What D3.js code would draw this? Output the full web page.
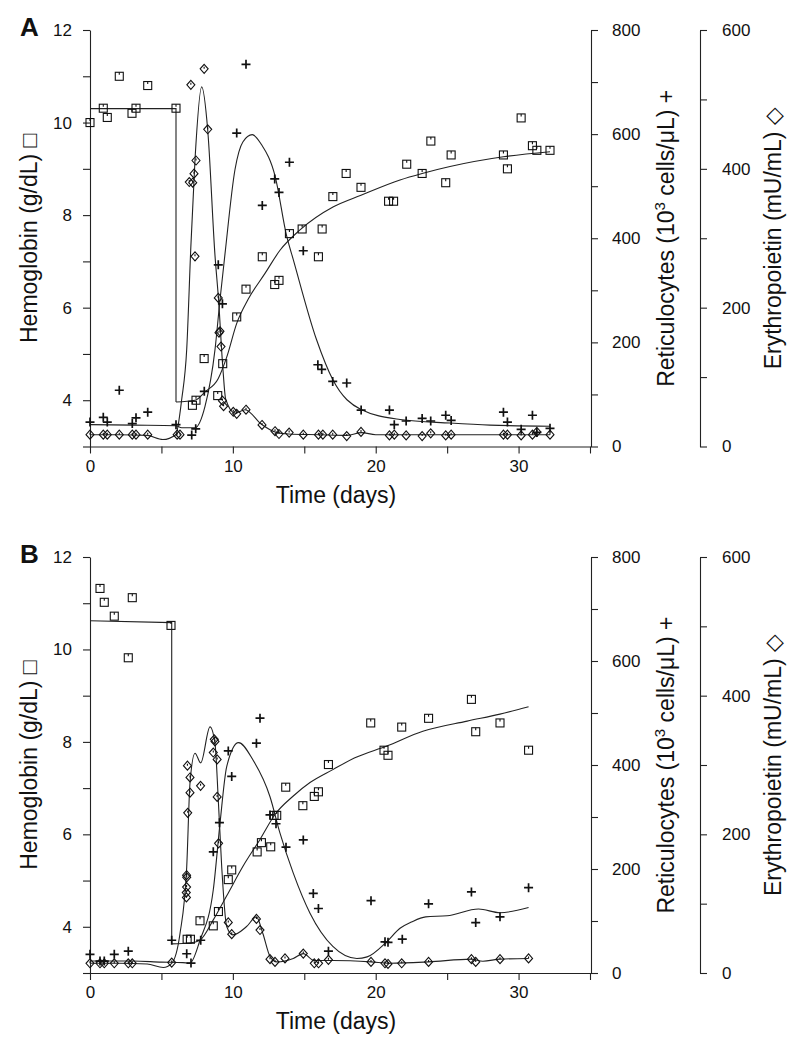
<!DOCTYPE html>
<html><head><meta charset="utf-8">
<script src="https://cdn.jsdelivr.net/npm/d3@7"></script>
<style>
body{margin:0;background:#fff;}
svg text{font-family:"Liberation Sans",Arial,Helvetica,sans-serif;fill:#111;}
</style></head><body>
<svg id="chart" width="800" height="1050"></svg>
<script>
// ---------- tick values ----------
const xTicks = [0,5,10,15,20,25,30,35];
const xLabels = [0,10,20,30];
const hbTicks = [3,4,5,6,7,8,9,10,11,12];
const hbLabels = [4,6,8,10,12];
const retTicks = [0,100,200,300,400,500,600,700,800];
const retLabels = [0,200,400,600,800];
const epoTicks = [0,100,200,300,400,500,600];
const epoLabels = [0,200,400,600];

// ---------- Panel A data [day, value] ----------
const hbA = [[0,10.0],[0.93,10.31],[1.21,10.11],[2.05,11.0],[2.94,10.2],[3.22,10.31],[4.04,10.8],[6.02,10.31],
 [7.17,3.89],[7.42,4.0],[7.99,4.9],[8.94,4.1],[9.29,4.79],[10.27,5.8],[10.92,6.4],[12.06,7.1],[12.93,6.5],[13.23,6.59],
 [13.96,7.6],[14.85,7.7],[15.99,7.1],[16.25,7.7],[17.0,8.4],[17.93,8.9],[18.97,8.6],[20.9,8.3],[21.25,8.3],[22.17,9.1],
 [23.25,8.9],[23.86,9.6],[24.9,8.7],[25.28,9.3],[28.94,9.3],[29.22,9.0],[30.18,10.1],[30.97,9.5],[31.28,9.4],[32.2,9.4]];
const retA = [[0,47],[0.93,56],[1.21,47],[2.05,108],[2.96,44],[3.22,55],[4.04,66],[6.02,42],[7.12,22],[7.4,34],[8.0,106],
 [8.98,349],[9.27,274],[10.27,602],[10.92,734],[12.06,463],[12.93,514],[13.23,488],[13.96,546],[14.93,376],[15.95,157],
 [16.22,148],[16.99,125],[17.97,122],[18.98,70],[20.96,70],[21.3,42],[22.13,49],[23.25,54],[23.85,49],[24.9,60],[25.28,50],
 [28.94,66],[29.22,47],[30.18,33],[30.97,60],[31.28,27],[32.2,35]];
const epoA = [[0,17],[0.93,17],[1.21,17],[2.05,17],[2.96,17],[3.22,17],[4.04,17],[6.1,17],[6.3,17],[6.95,381],[7.06,521],
 [7.19,380],[7.28,393],[7.35,274],[7.42,412],[7.99,544],[8.24,457],[8.98,214],[9.03,164],[9.1,166],[9.17,144],[9.27,66],
 [9.35,58],[10.03,50],[10.27,47],[10.92,53],[12.04,31],[12.95,22],[13.23,18],[13.94,20],[14.93,17],[15.99,17],[16.3,17],
 [16.99,17],[17.97,15],[18.97,21],[20.96,16],[21.3,17],[22.13,16],[23.25,15],[23.85,19],[24.9,16],[25.28,17],[28.94,17],
 [29.22,17],[30.18,16],[30.97,17],[31.28,21],[32.2,17]];
const hbStepA = [[0,10.3],[6.02,10.3],[6.02,3.96]];
const hbFitA = [[6.02,3.96],[7.35,4.0],[8.05,4.18],[8.98,4.47],[9.57,4.93],[10.27,5.66],[11.07,6.18],[12.25,6.74],[13.3,7.24],
 [14.7,7.68],[17.04,8.18],[18.97,8.43],[21.7,8.76],[23.25,8.9],[25.2,9.05],[28.94,9.26],[32.2,9.37]];
const retFitA = [[0,42],[3,41],[6,40],[6.42,36],[7.35,36],[8.05,77],[8.75,186],[9.1,282],[9.45,370],[10.15,532],[10.7,585],
 [11.36,599],[12.0,580],[12.96,519],[13.76,405],[14.23,359],[15.86,205],[17.0,128],[18.97,71],[21.7,52],[25.2,45],[28,41],[32.2,39]];
const epoFitA = [[0,17],[2,17],[4,16],[5.1,10],[6.0,17],[6.42,68],[6.77,140],[7.06,288],[7.35,413],[7.82,518],[8.24,456],
 [8.75,275],[9.0,211],[9.29,116],[9.5,68],[10.15,48],[10.85,53],[12.0,32],[12.95,21],[13.9,18],[16,17],[18,16],[19,20],
 [20,17],[25,17],[32.2,17]];

// ---------- Panel B data [day, value] ----------
const hbB = [[0.7,11.32],[1.0,11.02],[1.7,10.72],[2.68,9.82],[2.96,11.12],[5.67,10.52],[6.8,3.73],[7.03,3.73],[7.7,4.13],
 [8.63,4.02],[8.99,4.33],[9.68,5.02],[9.92,5.23],[11.7,5.62],[12.0,5.82],[12.65,5.73],[12.88,6.41],[13.07,6.41],[13.7,7.02],
 [14.9,6.62],[15.7,6.82],[15.99,6.92],[16.69,7.51],[19.65,8.41],[20.58,7.82],[20.86,7.71],[21.82,8.32],[23.7,8.51],
 [26.7,8.92],[27.0,8.22],[28.7,8.41],[30.7,7.82]];
const retB = [[0,36],[0.7,23],[1.0,23],[1.7,36],[2.68,42],[5.72,63],[6.77,37],[7.07,19],[7.75,63],[8.63,233],[9.06,289],
 [9.68,427],[9.92,378],[11.65,442],[11.9,490],[12.6,304],[13.02,287],[13.72,242],[14.93,256],[15.63,153],[15.99,124],
 [16.69,42],[19.67,139],[20.65,60],[20.86,59],[21.86,65],[23.7,133],[26.7,156],[27.0,97],[28.7,108],[30.7,164]];
const epoB = [[0,14],[0.7,14],[1.0,14],[1.7,14],[2.68,14],[2.96,14],[5.72,15],[6.76,141],[6.77,138],[6.76,124],[6.74,116],
 [6.75,109],[6.84,231],[6.82,299],[7.0,282],[7.0,260],[7.74,270],[8.63,318],[8.7,337],[8.75,334],[8.9,308],[8.9,254],
 [9.0,187],[9.68,73],[9.92,56],[11.65,78],[11.9,62],[12.6,20],[12.95,16],[13.65,21],[14.93,28],[15.7,14],[16.0,14],
 [16.69,19],[19.67,16],[20.65,14],[20.86,13],[21.82,14],[23.7,16],[26.7,20],[27.0,16],[28.7,20],[30.7,21]];
const hbStepB = [[0,10.62],[5.72,10.58],[5.72,3.63]];
const hbFitB = [[5.72,3.63],[7.0,3.65],[7.7,3.71],[8.63,4.15],[9.57,4.67],[10.73,5.32],[11.9,5.89],[12.95,6.43],[14.23,6.83],
 [15.4,7.12],[17,7.4],[18.5,7.65],[20.77,7.91],[23.3,8.23],[26.4,8.45],[28.7,8.6],[30.7,8.76]];
const retFitB = [[0,23],[3,23],[5,21],[6.5,20],[7.0,19],[7.7,63],[8.63,160],[9.1,288],[9.57,397],[10.4,443],[11.4,410],
 [12.6,339],[13.3,269],[14.23,192],[15.4,115],[17,51],[18.68,28],[19.4,31],[20.77,60],[21.7,86],[22.5,98],[23.5,108],
 [25,110],[27.2,123],[28.7,116],[30.7,126]];
const epoFitB = [[0,14],[2,14],[4,13],[5.13,8],[5.72,14],[6.3,57],[6.77,153],[7.0,274],[7.35,317],[7.75,303],[8.4,355],
 [8.75,331],[8.98,250],[9.22,153],[9.57,67],[10.0,55],[10.96,67],[11.65,81],[12.1,57],[12.6,24],[13.07,16],[14.23,21],
 [14.93,28],[15.7,18],[17,18],[19.67,16],[21,14],[23.7,16],[26.7,20],[27.5,17],[28.7,20],[30.7,21]];

const panels = [
  {label:"A", top:30, bottom:446.5, hb:hbA, ret:retA, epo:epoA, hbStep:hbStepA, hbFit:hbFitA, retFit:retFitA, epoFit:epoFitA},
  {label:"B", top:557, bottom:973, hb:hbB, ret:retB, epo:epoB, hbStep:hbStepB, hbFit:hbFitB, retFit:retFitB, epoFit:epoFitB}
];

const svg = d3.select("#chart");
const INK = "#111", LINE = "#222";
const x = d3.scaleLinear().domain([0,35]).range([90,590]);
const axR = 591, axE = 700;

panels.forEach(p => {
  const g = svg.append("g");
  const yHb = d3.scaleLinear().domain([3,12]).range([p.bottom, p.top]);
  const yR = d3.scaleLinear().domain([0,800]).range([p.bottom, p.top]);
  const yE = d3.scaleLinear().domain([0,600]).range([p.bottom, p.top]);

  function styleAxis(sel){
    sel.selectAll("path.domain").attr("stroke", LINE).attr("stroke-width",1.1);
    sel.selectAll(".tick line").attr("stroke", LINE).attr("stroke-width",1.1);
    sel.selectAll(".tick text").attr("font-size",17).attr("fill",INK)
       .attr("font-family",'"Liberation Sans",Arial,sans-serif');
  }
  g.append("g").attr("transform",`translate(90,0)`)
    .call(d3.axisLeft(yHb).tickValues(hbTicks).tickSize(7).tickSizeOuter(0).tickPadding(11)
      .tickFormat(d => hbLabels.includes(d) ? d : ""))
    .call(styleAxis);
  g.append("g").attr("transform",`translate(0,${p.bottom})`)
    .call(d3.axisBottom(x).tickValues(xTicks).tickSize(7).tickSizeOuter(0).tickPadding(6)
      .tickFormat(d => xLabels.includes(d) ? d : ""))
    .call(styleAxis);
  g.append("g").attr("transform",`translate(${axR},0)`)
    .call(d3.axisRight(yR).tickValues(retTicks).tickSize(7).tickSizeOuter(0).tickPadding(14)
      .tickFormat(d => retLabels.includes(d) ? d : ""))
    .call(styleAxis);
  g.append("g").attr("transform",`translate(${axE},0)`)
    .call(d3.axisRight(yE).tickValues(epoTicks).tickSize(7).tickSizeOuter(0).tickPadding(15)
      .tickFormat(d => epoLabels.includes(d) ? d : ""))
    .call(styleAxis);

  const fs = 23;
  const mid = (p.top + p.bottom)/2;
  g.append("text").attr("transform",`translate(37,${mid}) rotate(-90)`).attr("text-anchor","middle")
    .attr("font-size",fs).text("Hemoglobin (g/dL) \u25A1");
  const rt = g.append("text").attr("transform",`translate(674,${mid}) rotate(-90)`).attr("text-anchor","middle")
    .attr("font-size",fs);
  rt.append("tspan").text("Reticulocytes (10");
  rt.append("tspan").attr("font-size",15).attr("dy",-9).text("3");
  rt.append("tspan").attr("dy",9).text(" cells/\u03BCL) +");
  g.append("text").attr("transform",`translate(781,${mid}) rotate(-90)`).attr("text-anchor","middle")
    .attr("font-size",fs).text("Erythropoietin (mU/mL) \u25C7");
  g.append("text").attr("x",336).attr("y",p.bottom+56).attr("text-anchor","middle")
    .attr("font-size",fs).text("Time (days)");
  g.append("text").attr("x",20).attr("y",p.top+6).attr("font-size",26).attr("font-weight","bold")
    .attr("fill","#000").text(p.label);

  const lineHbStep = d3.line().x(d=>x(d[0])).y(d=>yHb(d[1]));
  const lineHb = d3.line().x(d=>x(d[0])).y(d=>yHb(d[1])).curve(d3.curveMonotoneX);
  const lineR = d3.line().x(d=>x(d[0])).y(d=>yR(d[1])).curve(d3.curveMonotoneX);
  const lineE = d3.line().x(d=>x(d[0])).y(d=>yE(d[1])).curve(d3.curveMonotoneX);
  const curves = g.append("g").attr("fill","none").attr("stroke",LINE).attr("stroke-width",1.1);
  curves.append("path").attr("d", lineHbStep(p.hbStep));
  curves.append("path").attr("d", lineHb(p.hbFit));
  curves.append("path").attr("d", lineR(p.retFit));
  curves.append("path").attr("d", lineE(p.epoFit));

  const sq = g.append("g").attr("fill","none").attr("stroke",INK).attr("stroke-width",1.1);
  sq.selectAll("g.sq").data(p.hb).join("g").attr("class","sq")
    .attr("transform", d=>`translate(${x(d[0])},${yHb(d[1])})`)
    .each(function(){
      const s = d3.select(this);
      s.append("rect").attr("x",-4).attr("y",-4).attr("width",8).attr("height",8);
      s.append("line").attr("x1",0).attr("x2",0).attr("y1",-4).attr("y2",-1.5);
    });
  const dm = g.append("g").attr("fill","none").attr("stroke",INK).attr("stroke-width",1.1);
  dm.selectAll("g.dm").data(p.epo).join("g").attr("class","dm")
    .attr("transform", d=>`translate(${x(d[0])},${yE(d[1])})`)
    .each(function(){
      const s = d3.select(this);
      s.append("path").attr("d","M0,-4.5L4,0L0,4.5L-4,0Z");
      s.append("line").attr("x1",0).attr("x2",0).attr("y1",-2).attr("y2",0);
    });
  const pl = g.append("g").attr("stroke",INK).attr("stroke-width",1.7);
  pl.selectAll("path").data(p.ret).join("path")
    .attr("transform", d=>`translate(${x(d[0])},${yR(d[1])})`)
    .attr("d","M-4.5,0H4.5M0,-4.5V4.5");
});
</script>
</body></html>
